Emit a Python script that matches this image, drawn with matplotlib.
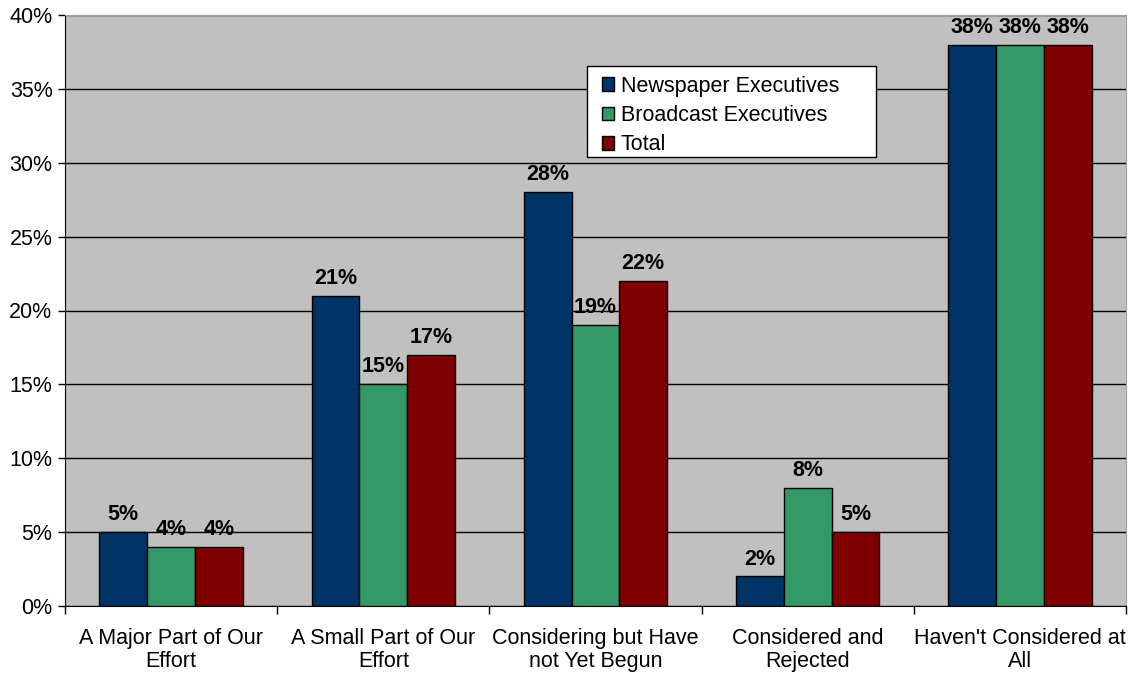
import matplotlib.pyplot as plt
from matplotlib.patches import Rectangle
import numpy as np

categories = ["A Major Part of Our\nEffort", "A Small Part of Our\nEffort",
              "Considering but Have\nnot Yet Begun", "Considered and\nRejected",
              "Haven't Considered at\nAll"]
series_names = ["Newspaper Executives", "Broadcast Executives", "Total"]
newspaper = [5, 21, 28, 2, 38]
broadcast = [4, 15, 19, 8, 38]
total = [4, 17, 22, 5, 38]
colors = ["#003366", "#339966", "#800000"]

plt.rcParams["font.family"] = ["Liberation Sans", "DejaVu Sans"]
fs = 15.5
W, H = 1136, 673

fig = plt.figure(figsize=(W / 100, H / 100), dpi=100)
ax = fig.add_axes([65 / W, 67 / H, 1061 / W, 591 / H])
ax.set_facecolor("#C0C0C0")

x = np.arange(len(categories))
w = 0.225
for i, (vals, name, col) in enumerate(zip([newspaper, broadcast, total], series_names, colors)):
    pos = x + (i - 1) * w
    ax.bar(pos, vals, width=w, color=col, edgecolor="black", linewidth=1.0,
           label=name, zorder=3)
    for px, v in zip(pos, vals):
        ax.annotate(f"{v}%", (px, v), xytext=(0, 5), textcoords="offset points",
                    ha="center", va="bottom", fontsize=fs, fontweight="bold", zorder=4)

ax.set_xlim(-0.5, len(categories) - 0.5)
ax.set_ylim(0, 40)
ax.set_yticks(range(0, 41, 5))
ax.set_yticklabels([f"{t}%" for t in range(0, 41, 5)], fontsize=fs)
ax.yaxis.grid(True, color="black", linewidth=1.0, zorder=1)
ax.set_axisbelow(True)

# category labels between boundary ticks
ax.set_xticks(np.arange(-0.5, len(categories), 1.0))
ax.set_xticklabels([])
ax.set_xticks(x, minor=True)
ax.set_xticklabels(categories, minor=True, fontsize=fs, linespacing=1.15)
ax.tick_params(axis="x", which="minor", length=0, pad=15.5)
ax.tick_params(axis="x", which="major", length=6, width=1, color="black")
ax.tick_params(axis="y", length=5, width=1, color="black", pad=4)

ax.spines["left"].set_color("black")
ax.spines["bottom"].set_color("black")
ax.spines["top"].set_color("#A0A0A0")
ax.spines["right"].set_color("#A0A0A0")

# legend box drawn separately so it can be wider than its text
box = Rectangle((587 / W, 1 - 157 / H), 289 / W, 91 / H, transform=fig.transFigure,
                facecolor="white", edgecolor="black", linewidth=1.0, zorder=4.8)
ax.add_patch(box)
box.set_clip_on(False)
leg = ax.legend(loc="upper left", bbox_to_anchor=((594 - 65) / 1061, (606 - 68) / 591),
                borderaxespad=0, fontsize=fs, frameon=False, handlelength=0.6,
                handleheight=0.6, handletextpad=0.3, labelspacing=0.39,
                borderpad=0.35)
leg.set_zorder(5)

plt.savefig("out.png", dpi=100)
